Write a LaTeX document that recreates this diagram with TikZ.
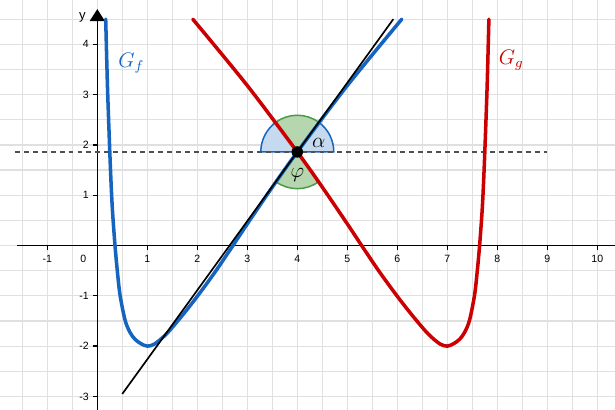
\documentclass[tikz,border=0pt]{standalone}
\usepackage{fontspec}
\setsansfont{Liberation Sans}
\usetikzlibrary{arrows.meta}
\definecolor{GraphF}{HTML}{1565C0}
\definecolor{GraphG}{HTML}{CC0000}
\definecolor{GridGray}{HTML}{E0E0E0}
\definecolor{GuideGray}{HTML}{505050}
\definecolor{WedgeBlue}{HTML}{C5D9EF}
\definecolor{WedgeGreen}{HTML}{B5D6AE}
\definecolor{WedgeGreenLine}{HTML}{4A9A4A}
\tikzset{
  every node/.style={inner sep=1pt},
  gridline/.style={draw=GridGray, line width=0.7pt},
  axis/.style={draw=black, line width=0.75pt},
  ticklabel/.style={font=\sffamily\fontsize{6}{7}\selectfont},
  axislabel/.style={font=\sffamily\fontsize{7.5}{9}\selectfont},
  graphlabel/.style={font=\fontsize{11.5}{13}\selectfont},
  anglelabel/.style={font=\fontsize{11.5}{13}\selectfont, text=black},
  curve/.style={line width=2pt, line join=round, line cap=round},
  tangent/.style={draw=black, line width=0.95pt},
  guide/.style={draw=GuideGray, line width=0.7pt, dash pattern=on 2.8pt off 2.3pt},
  wedgeblue/.style={fill=WedgeBlue, draw=GraphF, line width=0.85pt},
  wedgegreen/.style={fill=WedgeGreen, draw=WedgeGreenLine, line width=0.85pt},
  dot/.style={circle, fill=black, inner sep=0pt, minimum size=2.3mm},
  pics/branch/.style={code={
    \draw[curve] plot[smooth] coordinates {
      (0.168,4.5) (0.19,3.65) (0.21,2.96) (0.26,1.6) (0.30,0.75) (0.354,0)
      (0.40,-0.5) (0.454,-0.98) (0.554,-1.48) (0.65,-1.72) (0.75,-1.86)
      (0.87,-1.95) (1,-2) (1.15,-1.955) (1.39,-1.75) (1.7,-1.39) (2,-1.01)
      (2.36,-0.52) (2.72,0.01) (3,0.43) (3.5,1.16) (4,1.86) (5,3.18) (6.09,4.5)};
  }},
}

\begin{document}
\begin{tikzpicture}[x=1cm,y=1.006cm]
  % 1 unit = 50 px, grid every 0.5
  \useasboundingbox (-1.946,-3.270) rectangle (10.354,4.881);
  \fill[white] (-1.946,-3.270) rectangle (10.354,4.881);
  \foreach \x in {-1.5,-1,...,10}
    \draw[gridline] (\x,-3.270) -- (\x,4.881);
  \foreach \y in {-3,-2.5,...,4.5}
    \draw[gridline] (-1.946,\y) -- (10.354,\y);
  \draw[axis] (-1.6,0) -- (10.354,0);
  \draw[axis, -{Triangle[width=3mm,length=2.4mm]}] (0,-3.270) -- (0,4.70);
  \foreach \x in {-1,1,2,...,10}{
    \draw[axis] (\x,0) -- (\x,-0.08);
    \node[ticklabel] (xl\x) at (\x,-0.26) {\x};
  }
  \foreach \y in {-3,-2,-1,1,2,3,4}{
    \draw[axis] (0,\y) -- (-0.08,\y);
    \node[ticklabel, anchor=east] (yl\y) at (-0.13,\y) {\y};
  }
  \node[ticklabel] (origin) at (-0.28,-0.26) {0};
  \node[axislabel] (ylab) at (-0.30,4.53) {y};
  \coordinate (P) at (4,1.86);
  \filldraw[wedgeblue] (P) -- ++(0:0.73) arc[start angle=0, end angle=54, radius=0.73] -- cycle;
  \filldraw[wedgegreen] (P) -- ++(54:0.73) arc[start angle=54, end angle=126, radius=0.73] -- cycle;
  \filldraw[wedgeblue] (P) -- ++(126:0.73) arc[start angle=126, end angle=180, radius=0.73] -- cycle;
  \filldraw[wedgegreen] (P) -- ++(234:0.73) arc[start angle=234, end angle=306, radius=0.73] -- cycle;
  \coordinate (D1) at (-1.65,1.86);
  \coordinate (D2) at (9,1.86);
  \draw[guide] (D1) -- (D2);
  \pic[GraphF] at (0,0) {branch};
  \pic[GraphG, xscale=-1] at (8,0) {branch};
  \coordinate (T1) at (0.5,-2.95);
  \coordinate (T2) at (5.92,4.5);
  \draw[tangent] (T1) -- (T2);
  \node[dot] (Pt) at (P) {};
  \node[graphlabel, text=GraphF] (Gf) at (0.68,3.63) {$G_f$};
  \node[graphlabel, text=GraphG] (Gg) at (8.28,3.69) {$G_g$};
  \node[anglelabel] (alpha) at (4.43,2.03) {$\alpha$};
  \node[anglelabel] (phi) at (4.00,1.40) {$\varphi$};
\end{tikzpicture}
\end{document}
